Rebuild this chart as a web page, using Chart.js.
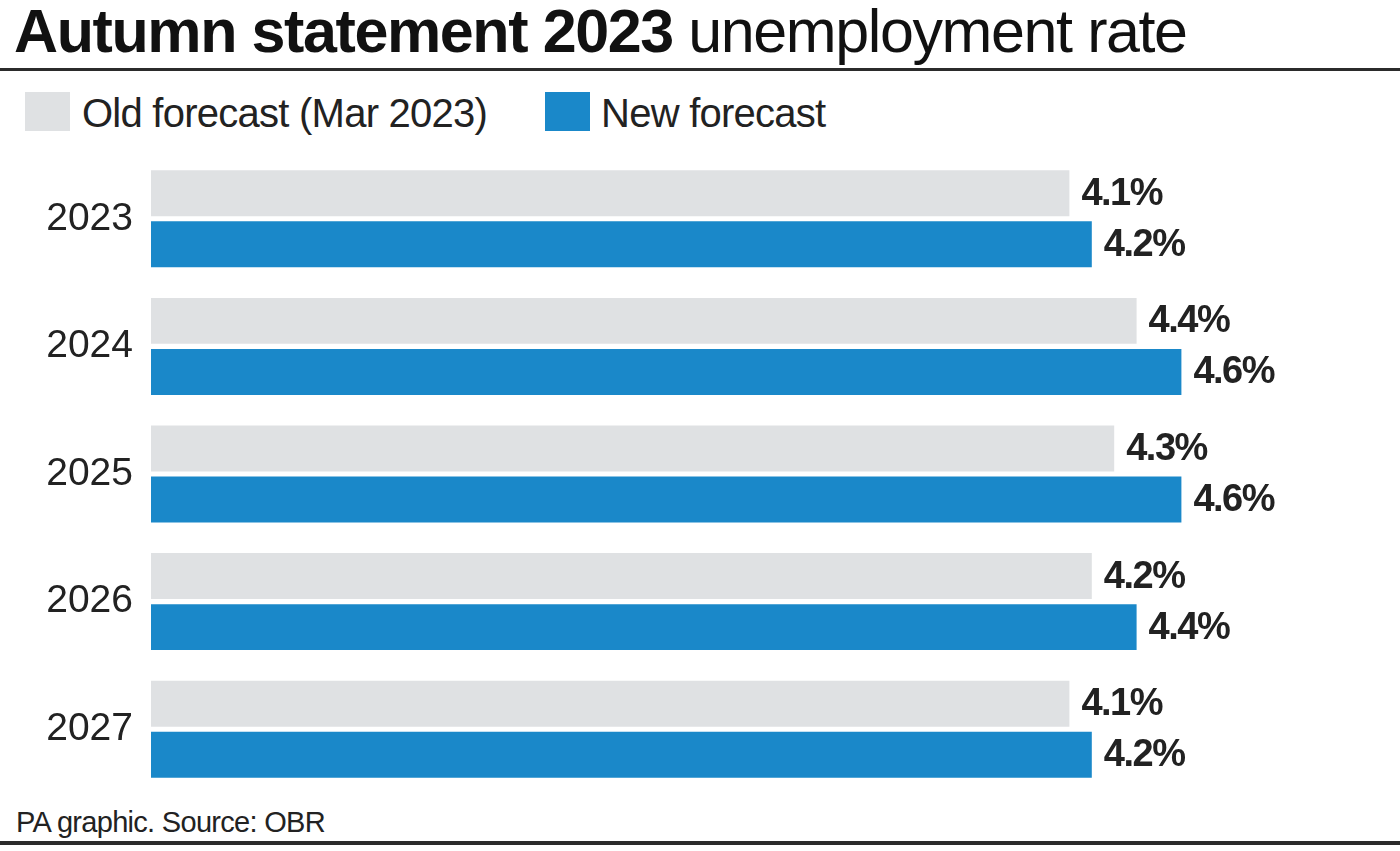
<!DOCTYPE html>
<html>
<head>
<meta charset="utf-8">
<script src="https://cdn.jsdelivr.net/npm/chart.js@4.4.1/dist/chart.umd.min.js"></script>
<style>
  html, body { margin: 0; padding: 0; background: #fff; }
  body { width: 1400px; height: 851px; position: relative; overflow: hidden;
         font-family: "Liberation Sans", Arial, sans-serif; color: #111; }
  .title { position: absolute; left: 14px; top: 1px; font-size: 61px; letter-spacing: -1.4px;
           white-space: nowrap; line-height: 60px; }
  .title b { font-weight: 700; }
  .rule { position: absolute; left: 0; width: 1400px; background: #2b2b2b; }
  .legend { position: absolute; top: 0; left: 0; font-size: 40px; line-height: 40px;
            letter-spacing: -0.75px; color: #222; white-space: nowrap; }
  .legend i { position: absolute; top: 92px; width: 45px; height: 39px; }
  .legend span { position: absolute; top: 93px; }
  .foot { position: absolute; left: 16px; top: 807px; font-size: 29px; line-height: 30px;
          letter-spacing: -0.7px; color: #222; white-space: nowrap; }
  #wrap { position: absolute; left: 0; top: 155px; width: 1400px; height: 638px; }
</style>
</head>
<body>
<div class="title"><b>Autumn statement 2023</b> unemployment rate</div>
<div class="rule" style="top:68px;height:3px"></div>
<div class="legend" id="legend"></div>
<div id="wrap"><canvas id="chart"></canvas></div>
<div class="foot">PA graphic. Source: OBR</div>
<div class="rule" style="top:841px;height:4px"></div>

<script>
// ── Data ─────────────────────────────────────────────────────────
const years = ["2023", "2024", "2025", "2026", "2027"];
const oldForecast = [4.1, 4.4, 4.3, 4.2, 4.1];
const newForecast = [4.2, 4.6, 4.6, 4.4, 4.2];
const seriesNames = ["Old forecast (Mar 2023)", "New forecast"];
const seriesColors = ["#dfe1e3", "#1a88c9"];

// ── Legend (HTML) ────────────────────────────────────────────────
const legendPos = [{ box: 25, text: 82 }, { box: 545, text: 601 }];
const legendEl = document.getElementById("legend");
seriesNames.forEach((name, i) => {
  legendEl.innerHTML +=
    `<i style="left:${legendPos[i].box}px;background:${seriesColors[i]}"></i>` +
    `<span style="left:${legendPos[i].text}px">${name}</span>`;
});

// ── Value labels at bar ends ─────────────────────────────────────
const valueLabels = {
  id: "valueLabels",
  afterDatasetsDraw(chart) {
    const ctx = chart.ctx;
    ctx.save();
    ctx.font = "bold 38px 'Liberation Sans', Arial, sans-serif";
    ctx.letterSpacing = "-1.5px";
    ctx.fillStyle = "#222";
    ctx.textAlign = "left";
    ctx.textBaseline = "middle";
    chart.data.datasets.forEach((ds, di) => {
      chart.getDatasetMeta(di).data.forEach((bar, i) => {
        ctx.fillText(ds.data[i].toFixed(1) + "%", bar.x + 12, bar.y + 1);
      });
    });
    ctx.restore();
  },
};

// ── Chart ────────────────────────────────────────────────────────
new Chart(document.getElementById("chart"), {
  type: "bar",
  data: {
    labels: years,
    datasets: [
      { label: seriesNames[0], data: oldForecast, backgroundColor: seriesColors[0] },
      { label: seriesNames[1], data: newForecast, backgroundColor: seriesColors[1] },
    ],
  },
  options: {
    indexAxis: "y",
    responsive: true,
    maintainAspectRatio: false,
    animation: false,
    layout: { padding: { right: 17 } },
    plugins: { legend: { display: false }, tooltip: { enabled: false } },
    datasets: { bar: { categoryPercentage: 0.8, barPercentage: 0.9 } },
    scales: {
      x: { display: false, min: 0, max: 5.5 },
      y: {
        grid: { display: false, drawTicks: false },
        border: { display: false },
        ticks: {
          padding: 18,
          color: "#222",
          font: { family: "'Liberation Sans', Arial, sans-serif", size: 39 },
        },
        afterFit(scale) {
          scale.width = 151;
          scale.paddingTop = 0;
          scale.paddingBottom = 0;
        },
      },
    },
  },
  plugins: [valueLabels],
});
</script>
</body>
</html>
